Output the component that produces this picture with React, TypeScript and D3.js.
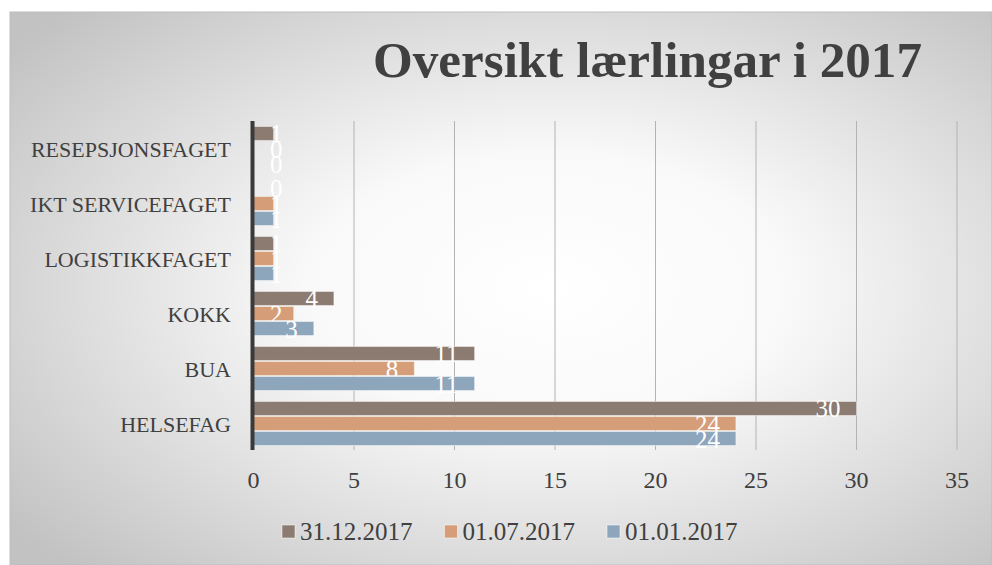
import * as d3 from 'd3';
import React, { useEffect, useRef } from 'react';

const categories = ['RESEPSJONSFAGET', 'IKT SERVICEFAGET', 'LOGISTIKKFAGET', 'KOKK', 'BUA', 'HELSEFAG'];
const seriesNames = ['31.12.2017', '01.07.2017', '01.01.2017'];
const seriesColors = ['#8c7b71', '#d59e78', '#8ea6bc'];
const values31Dec = [1, 0, 1, 4, 11, 30];
const values01Jul = [0, 1, 1, 2, 8, 24];
const values01Jan = [0, 1, 1, 3, 11, 24];
const xTicks = [0, 5, 10, 15, 20, 25, 30, 35];

const W = 992;
const H = 565;
const FONT = '"Liberation Serif", "Times New Roman", serif';

const App: React.FC = () => {
  const svgRef = useRef<SVGSVGElement>(null);

  useEffect(() => {
    if (!svgRef.current) return;
    const svg = d3.select(svgRef.current);
    svg.selectAll('*').remove();

    const series = [values31Dec, values01Jul, values01Jan];

    // background gradient
    const defs = svg.append('defs');
    const grad = defs.append('radialGradient')
      .attr('id', 'bg')
      .attr('cx', '55%').attr('cy', '50%').attr('r', '70%');
    grad.append('stop').attr('offset', '0%').attr('stop-color', '#ffffff');
    grad.append('stop').attr('offset', '35%').attr('stop-color', '#f9f9f9');
    grad.append('stop').attr('offset', '100%').attr('stop-color', '#c2c2c2');

    svg.append('rect')
      .attr('x', 10).attr('y', 12)
      .attr('width', W - 10).attr('height', H - 12)
      .attr('fill', 'url(#bg)')
      .attr('stroke', '#bdbdbd')
      .attr('stroke-width', 1);

    const x = d3.scaleLinear().domain([0, 35]).range([253.5, 957]);
    const y = d3.scaleBand().domain(categories).range([121, 451]).paddingInner(0.2).paddingOuter(0.1);
    const ySub = d3.scaleBand().domain(seriesNames).range([0, y.bandwidth()]).paddingInner(0.07);

    // gridlines
    svg.append('g')
      .selectAll('line')
      .data(xTicks.filter(t => t > 0))
      .join('line')
      .attr('x1', d => x(d)).attr('x2', d => x(d))
      .attr('y1', 121).attr('y2', 450)
      .attr('stroke', '#b3b3b3')
      .attr('stroke-width', 1);

    // bars
    const groups = svg.append('g')
      .selectAll('g')
      .data(categories)
      .join('g')
      .attr('transform', d => `translate(0, ${y(d)})`);

    seriesNames.forEach((name, si) => {
      groups.append('rect')
        .attr('x', x(0))
        .attr('y', ySub(name) || 0)
        .attr('width', (d, i) => x(series[si][i]) - x(0))
        .attr('height', ySub.bandwidth())
        .attr('fill', seriesColors[si])
        .attr('stroke', (d, i) => series[si][i] > 0 ? 'rgba(255,255,255,0.45)' : 'none')
        .attr('stroke-width', 1);

      groups.append('text')
        .attr('x', (d, i) => Math.max(x(series[si][i]) - 16, x(0) + 29))
        .attr('y', (ySub(name) || 0) + ySub.bandwidth() / 2 + 9)
        .attr('text-anchor', 'end')
        .attr('font-family', FONT)
        .attr('font-size', 25)
        .attr('fill', '#ffffff')
        .text((d, i) => series[si][i]);
    });

    // zero axis line
    svg.append('line')
      .attr('x1', x(0) - 1).attr('x2', x(0) - 1)
      .attr('y1', 121).attr('y2', 450)
      .attr('stroke', '#3a3a3a')
      .attr('stroke-width', 4);

    // category labels
    svg.append('g')
      .selectAll('text')
      .data(categories)
      .join('text')
      .attr('x', 231)
      .attr('y', d => (y(d) || 0) + y.bandwidth() / 2 + 8)
      .attr('text-anchor', 'end')
      .attr('font-family', FONT)
      .attr('font-size', 22)
      .attr('fill', '#404040')
      .text(d => d);

    // tick labels
    svg.append('g')
      .selectAll('text')
      .data(xTicks)
      .join('text')
      .attr('x', d => x(d))
      .attr('y', 488)
      .attr('text-anchor', 'middle')
      .attr('font-family', FONT)
      .attr('font-size', 24)
      .attr('fill', '#404040')
      .text(d => d);

    // title
    svg.append('text')
      .attr('x', 373)
      .attr('y', 77)
      .attr('font-family', FONT)
      .attr('font-size', 51)
      .attr('font-weight', 'bold')
      .attr('fill', '#404040')
      .attr('textLength', 549)
      .attr('lengthAdjust', 'spacingAndGlyphs')
      .text('Oversikt lærlingar i 2017');

    // legend
    const legend = svg.append('g');
    seriesNames.forEach((name, i) => {
      const lx = 282 + i * 162.5;
      legend.append('rect')
        .attr('x', lx).attr('y', 525)
        .attr('width', 13).attr('height', 13)
        .attr('fill', seriesColors[i])
        .attr('stroke', 'rgba(255,255,255,0.5)');
      legend.append('text')
        .attr('x', lx + 18)
        .attr('y', 540)
        .attr('font-family', FONT)
        .attr('font-size', 25)
        .attr('fill', '#404040')
        .text(name);
    });
  }, []);

  return (
    <svg
      ref={svgRef}
      width={W}
      height={H}
      style={{ position: 'absolute', left: 0, top: 0, background: '#ffffff' }}
    />
  );
};

export default App;
